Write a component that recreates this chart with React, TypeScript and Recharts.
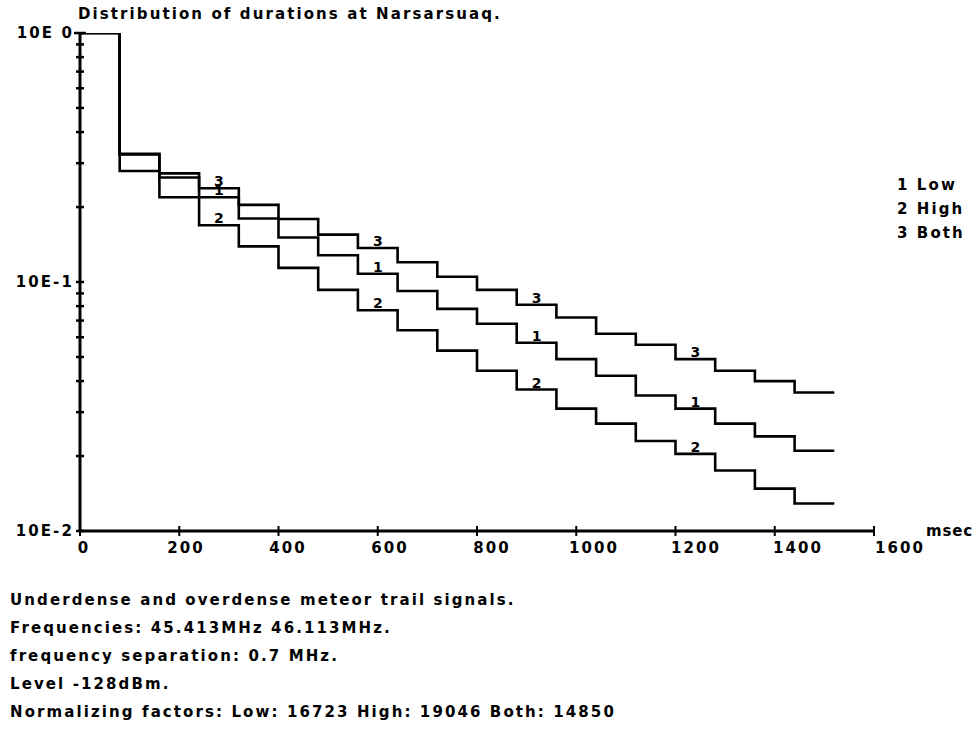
import React from 'react';
import { ComposedChart, Line, Scatter, XAxis, YAxis } from 'recharts';

// bin start times (msec), each bin is 80 msec wide
const BIN_START_MS = [0, 80, 160, 240, 320, 400, 480, 560, 640, 720, 800, 880, 960, 1040, 1120, 1200, 1280, 1360, 1440];
const LAST_BIN_END_MS = 1520;

// normalized fraction per bin
const LOW = [1.0, 0.325, 0.263, 0.219, 0.18, 0.151, 0.128, 0.108, 0.092, 0.078, 0.068, 0.057, 0.049, 0.042, 0.035, 0.031, 0.027, 0.024, 0.021];
const HIGH = [1.0, 0.279, 0.219, 0.169, 0.139, 0.114, 0.093, 0.077, 0.064, 0.053, 0.044, 0.037, 0.031, 0.027, 0.023, 0.0204, 0.0175, 0.0148, 0.0129];
const BOTH = [1.0, 0.327, 0.273, 0.238, 0.204, 0.179, 0.155, 0.137, 0.12, 0.105, 0.093, 0.081, 0.072, 0.062, 0.056, 0.049, 0.044, 0.04, 0.036];

// bins where the curve number is written on the line
const LABEL_BINS = [3, 7, 11, 15];

const X_TICKS = [0, 200, 400, 600, 800, 1000, 1200, 1400, 1600];
const Y_TICKS = [
  1, 0.9, 0.8, 0.7, 0.6, 0.5, 0.4, 0.3, 0.2,
  0.1, 0.09, 0.08, 0.07, 0.06, 0.05, 0.04, 0.03, 0.02,
  0.01
];

const LEGEND = ['1 Low', '2 High', '3 Both'];
const NOTES = [
  'Underdense and overdense meteor trail signals.',
  'Frequencies: 45.413MHz 46.113MHz.',
  'frequency separation: 0.7 MHz.',
  'Level -128dBm.',
  'Normalizing factors: Low: 16723 High: 19046 Both: 14850'
];

const FONT = '"DejaVu Sans", Verdana, sans-serif';
const textStyle = { fontFamily: FONT, fontWeight: 700, fontSize: 15, letterSpacing: 2.1 };
const tagStyle = { fontFamily: FONT, fontWeight: 700, fontSize: 14, letterSpacing: 0 };

const last = BIN_START_MS.length - 1;
const rows = [
  ...BIN_START_MS.map((t, i) => ({ t, low: LOW[i], high: HIGH[i], both: BOTH[i] })),
  { t: LAST_BIN_END_MS, low: LOW[last], high: HIGH[last], both: BOTH[last] }
];

const labelPoints = [
  { tag: '1', values: LOW },
  { tag: '2', values: HIGH },
  { tag: '3', values: BOTH }
].flatMap(({ tag, values }) =>
  LABEL_BINS.map((bin) => ({ t: BIN_START_MS[bin] + 40, v: values[bin], tag }))
);

const decadeLabel = (v: number): string | null => {
  const exp = Math.log10(v);
  if (Math.abs(exp - Math.round(exp)) > 1e-9) return null;
  const e = Math.round(exp);
  return e === 0 ? '10E 0' : `10E${e}`;
};

const YTick = (props: any) => {
  const { x, y, payload } = props;
  const label = decadeLabel(payload.value);
  const half = payload.value === 1 ? 6 : 4;
  return (
    <g>
      <line x1={x - half} x2={x + half} y1={y} y2={y} stroke="#000" strokeWidth={2.5} />
      {label && (
        <text x={x - 6} y={y} textAnchor="end" dominantBaseline="central" style={textStyle}>
          {label}
        </text>
      )}
    </g>
  );
};

const XTick = (props: any) => {
  const { x, y, payload, index } = props;
  return (
    <g>
      <line x1={x} x2={x} y1={y - 5} y2={y + 5} stroke="#000" strokeWidth={2} />
      <text x={x + 4 + index * 2.75} y={y + 17} textAnchor="middle" dominantBaseline="central" style={textStyle}>
        {payload.value}
      </text>
    </g>
  );
};

const CurveTag = (props: any) => {
  const { cx, cy, payload } = props;
  return (
    <text x={cx} y={cy - 2} textAnchor="middle" style={tagStyle}>
      {payload.tag}
    </text>
  );
};

export default function App() {
  return (
    <div style={{ position: 'absolute', left: 0, top: 0, width: 975, height: 736, background: '#fff' }}>
      <ComposedChart width={975} height={736} data={rows} margin={{ top: 33, right: 101, bottom: 0, left: 0 }}>
        <XAxis
          dataKey="t"
          type="number"
          domain={[0, 1600]}
          ticks={X_TICKS}
          interval={0}
          height={205}
          tickLine={false}
          tickSize={0}
          tickMargin={0}
          axisLine={{ stroke: '#000', strokeWidth: 3 }}
          tick={<XTick />}
        />
        <YAxis
          type="number"
          scale="log"
          domain={[0.01, 1]}
          allowDataOverflow
          ticks={Y_TICKS}
          interval={0}
          width={80}
          tickLine={false}
          tickSize={0}
          tickMargin={0}
          axisLine={{ stroke: '#000', strokeWidth: 3 }}
          tick={<YTick />}
        />
        <Line dataKey="low" type="stepAfter" stroke="#000" strokeWidth={2.6} dot={false} isAnimationActive={false} />
        <Line dataKey="high" type="stepAfter" stroke="#000" strokeWidth={2.6} dot={false} isAnimationActive={false} />
        <Line dataKey="both" type="stepAfter" stroke="#000" strokeWidth={2.6} dot={false} isAnimationActive={false} />
        <Scatter data={labelPoints} dataKey="v" shape={<CurveTag />} isAnimationActive={false} />
      </ComposedChart>
      <svg width={975} height={736} style={{ position: 'absolute', left: 0, top: 0, pointerEvents: 'none' }}>
        <text x={78} y={14} dominantBaseline="central" style={textStyle}>
          Distribution of durations at Narsarsuaq.
        </text>
        <text x={926} y={531} dominantBaseline="central" style={{ ...textStyle, letterSpacing: 0.8 }}>
          msec
        </text>
        {LEGEND.map((item, i) => (
          <text key={item} x={897} y={185 + i * 24} dominantBaseline="central" style={textStyle}>
            {item}
          </text>
        ))}
        {NOTES.map((line, i) => (
          <text key={line} x={10} y={600 + i * 28} dominantBaseline="central" style={textStyle}>
            {line}
          </text>
        ))}
      </svg>
    </div>
  );
}
